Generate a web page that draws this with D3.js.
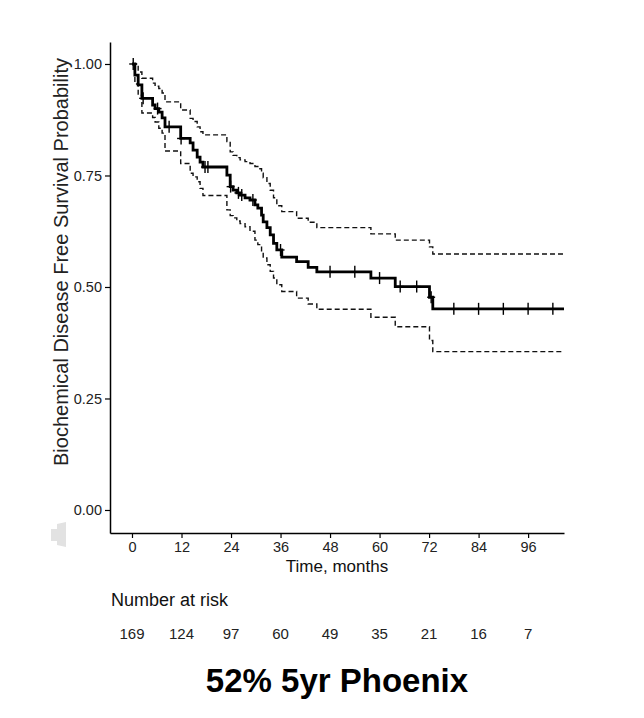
<!DOCTYPE html>
<html>
<head>
<meta charset="utf-8">
<script src="https://cdn.jsdelivr.net/npm/d3@7"></script>
<style>
  body { margin: 0; background: #fff; }
  svg { display: block; font-family: "Liberation Sans", Arial, Helvetica, sans-serif; }
</style>
</head>
<body>
<div id="container"></div>
<script>
// courbe de Kaplan-Meier : temps des evenements (mois) et survie apres chaque saut
const times = [0, 0.7, 1.5, 2.4, 5.0, 5.6, 6.5, 7.3, 8.0, 11.8, 14.1, 14.8, 15.8, 16.5, 17.2,
  23.0, 23.8, 24.5, 25.4, 26.2, 27.4, 28.6, 29.8, 30.5, 31.4, 31.8, 32.7, 33.5, 34.3, 35.1,
  36.3, 39.9, 42.7, 44.8, 57.9, 63.8, 72.1, 72.9];
const surv = [1, 0.975, 0.953, 0.923, 0.908, 0.900, 0.892, 0.879, 0.859, 0.833, 0.823, 0.807, 0.791, 0.780, 0.769,
  0.751, 0.725, 0.717, 0.711, 0.706, 0.700, 0.695, 0.684, 0.677, 0.661, 0.646, 0.633, 0.617, 0.598, 0.583,
  0.567, 0.557, 0.544, 0.534, 0.520, 0.501, 0.477, 0.451];
// intervalle de confiance
const upper = [1, 1, 0.982, 0.968, 0.957, 0.950, 0.945, 0.935, 0.915, 0.897, 0.878, 0.871, 0.859, 0.848, 0.841,
  0.826, 0.803, 0.795, 0.790, 0.785, 0.781, 0.777, 0.770, 0.765, 0.755, 0.745, 0.732, 0.717, 0.700, 0.682,
  0.669, 0.654, 0.645, 0.633, 0.619, 0.605, 0.590, 0.574];
const lower = [1, 0.955, 0.930, 0.890, 0.880, 0.870, 0.856, 0.845, 0.805, 0.777, 0.755, 0.747, 0.736, 0.721, 0.705,
  0.673, 0.660, 0.655, 0.648, 0.642, 0.635, 0.625, 0.605, 0.595, 0.578, 0.565, 0.550, 0.535, 0.520, 0.505,
  0.490, 0.475, 0.462, 0.450, 0.432, 0.411, 0.380, 0.355];
const lastFollowUp = 104.7;

// sujets censures (les "+")
const censorTimes = [0.3, 2.7, 6.2, 9.0, 11.9, 17.7, 18.4, 23.9, 25.8, 26.6, 29.3, 36.0,
  48.0, 54.0, 60.0, 65.0, 69.0, 72.5, 78, 84, 90, 96, 102];

// tableau des effectifs
const riskTimes = [0, 12, 24, 36, 48, 60, 72, 84, 96];
const riskCounts = [169, 124, 97, 60, 49, 35, 21, 16, 7];
const yTicks = [0, 0.25, 0.5, 0.75, 1];

const width = 644, height = 718;

const x = d3.scaleLinear().domain([-5.33, 104.7]).range([110, 564]);
const y = d3.scaleLinear().domain([-0.0516, 1.0493]).range([533, 42]);

const svg = d3.create("svg")
  .attr("width", width)
  .attr("height", height);

// petit artefact gris a gauche de l'axe
svg.append("polygon")
  .attr("points", "51,529 57,529 57,524 66,522 66,547 57,545 57,541 51,541")
  .attr("fill", "#e2e2e2");

const stepLine = d3.line()
  .x(d => x(d[0]))
  .y(d => y(d[1]))
  .curve(d3.curveStepAfter);

function pts(vals) {
  const p = times.map((t, i) => [t, vals[i]]);
  p.push([lastFollowUp, vals[vals.length - 1]]);
  return p;
}

const g = svg.append("g");

g.append("path").datum(pts(upper))
  .attr("d", stepLine).attr("fill", "none")
  .attr("stroke", "#111").attr("stroke-width", 1.4).attr("stroke-dasharray", "5,3");
g.append("path").datum(pts(lower))
  .attr("d", stepLine).attr("fill", "none")
  .attr("stroke", "#111").attr("stroke-width", 1.4).attr("stroke-dasharray", "5,3");
g.append("path").datum(pts(surv))
  .attr("d", stepLine).attr("fill", "none")
  .attr("stroke", "#000").attr("stroke-width", 2.8);

// valeur de la courbe a un temps donne
function survAt(t) {
  let s = surv[0];
  for (let i = 0; i < times.length; i++) {
    if (times[i] <= t) s = surv[i];
  }
  return s;
}

const cens = g.selectAll("g.cens")
  .data(censorTimes)
  .join("g")
  .attr("class", "cens")
  .attr("transform", d => `translate(${x(d)},${y(survAt(d))})`);
cens.append("line").attr("x1", 0).attr("x2", 0).attr("y1", -6).attr("y2", 6)
  .attr("stroke", "#000").attr("stroke-width", 1.4);
cens.append("line").attr("x1", -4).attr("x2", 4).attr("y1", 0).attr("y2", 0)
  .attr("stroke", "#000").attr("stroke-width", 1.4);

// axes
const xAxis = svg.append("g")
  .attr("transform", `translate(0,${y.range()[0]})`)
  .call(d3.axisBottom(x).tickValues(riskTimes).tickSize(5).tickSizeOuter(0).tickPadding(4));
const yAxis = svg.append("g")
  .attr("transform", `translate(${x.range()[0]},0)`)
  .call(d3.axisLeft(y).tickValues(yTicks).tickFormat(d3.format(".2f")).tickSize(5).tickSizeOuter(0).tickPadding(3));

for (const a of [xAxis, yAxis]) {
  a.select(".domain").attr("stroke", "#000").attr("stroke-width", 1.5);
  a.selectAll(".tick line").attr("stroke", "#000").attr("stroke-width", 1.2);
  a.selectAll(".tick text")
    .attr("fill", "#222")
    .style("font-size", "14.5px")
    .style("font-family", "'Liberation Sans', Arial, sans-serif");
}

svg.append("text")
  .attr("x", 337).attr("y", 572)
  .attr("text-anchor", "middle")
  .attr("font-size", 17).attr("fill", "#111")
  .text("Time, months");

svg.append("text")
  .attr("transform", "translate(68,262) rotate(-90)")
  .attr("text-anchor", "middle")
  .attr("font-size", 20).attr("fill", "#222")
  .text("Biochemical Disease Free Survival Probability");

// nombre de sujets a risque
svg.append("text")
  .attr("x", 111).attr("y", 606)
  .attr("font-size", 18).attr("fill", "#111")
  .text("Number at risk");

svg.append("g").selectAll("text")
  .data(riskTimes)
  .join("text")
  .attr("x", d => x(d))
  .attr("y", 639)
  .attr("text-anchor", "middle")
  .attr("font-size", 15).attr("fill", "#222")
  .text((d, i) => riskCounts[i]);

svg.append("text")
  .attr("x", 337).attr("y", 692)
  .attr("text-anchor", "middle")
  .attr("font-size", 33).attr("font-weight", "bold").attr("fill", "#000")
  .text("52% 5yr Phoenix");

d3.select("#container").node().append(svg.node());
</script>
</body>
</html>
